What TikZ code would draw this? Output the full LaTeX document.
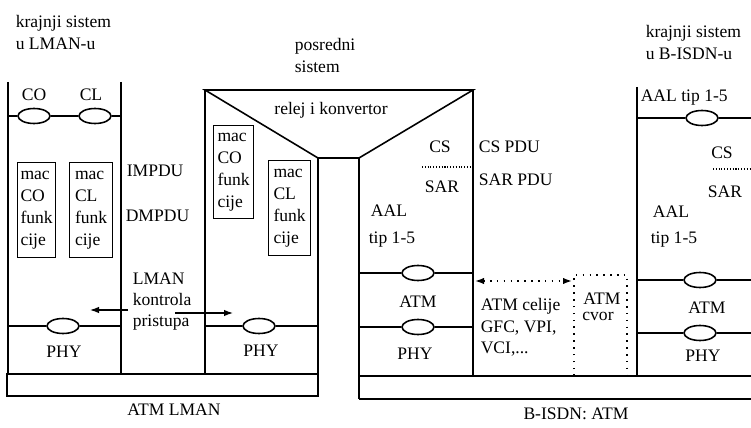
\documentclass[tikz,border=0pt]{standalone}
\usepackage{fontspec}
\setmainfont{Liberation Serif}
\usetikzlibrary{
  shapes.geometric,      % Ellipses for protocol entities
  arrows.meta
}

\tikzset{
  sloj/.style={ellipse, draw, minimum width=6.4mm, minimum height=3mm, inner sep=0pt},
  funkcija/.style={draw, line width=0.7pt, align=left, anchor=north west,
    minimum height=19mm, inner sep=1pt, font=\fontsize{10}{12.5}\selectfont},
  tekst/.style={anchor=west, inner sep=0pt, align=left},
  blok/.style={anchor=north west, inner sep=0pt, align=left},
  tacke/.style={line width=1pt, dash pattern=on 0.9pt off 3pt},
  sitno/.style={line width=0.6pt, densely dotted},
  strelica/.style={-{Latex[length=1.8mm, width=1.3mm]}, line width=0.7pt}
}

\begin{document}
\begin{tikzpicture}[x=0.2mm, y=-0.2mm, line width=0.9pt, font=\fontsize{10}{12}\selectfont]
        \useasboundingbox (0,0) rectangle (751,428);

        % Krajnji sistem u LMAN-u
        \node[blok] (naslovL) at (15,15) {krajnji sistem\\u LMAN-u};
        \draw (8,82) -- (8,374);
        \draw (121,82) -- (121,374);
        \node (co) at (34,95) {CO};
        \node (cl) at (91,95) {CL};
        \node[sloj] (eco) at (34,116) {};
        \node[sloj] (ecl) at (95,116) {};
        \draw (8,116) -- (eco) -- (ecl) -- (121,116);
        \node[funkcija, minimum width=7.6mm] (macco) at (17,162) {mac\\CO\\funk\\cije};
        \node[funkcija, minimum width=8.6mm] (maccl) at (69,162) {mac\\CL\\funk\\cije};
        \node[sloj] (ephyL) at (63,326) {};
        \draw (8,326) -- (ephyL) -- (121,326);
        \node (phyL) at (64,352) {PHY};

        % PDU oznake i kontrola pristupa
        \node[tekst] (impdu) at (126,171) {IMPDU};
        \node[tekst] (dmpdu) at (125,216) {DMPDU};
        \node[blok] (kontrola) at (132,272) {LMAN\\kontrola\\pristupa};
        \coordinate (kl1) at (128,310);
        \coordinate (kl2) at (90,310);
        \coordinate (kd1) at (175,313);
        \coordinate (kd2) at (233,313);
        \draw[strelica] (kl1) -- (kl2);
        \draw[strelica] (kd1) -- (kd2);

        % ATM LMAN
        \draw (7,374) rectangle (318,396);
        \node (atmlman) at (174,410) {ATM LMAN};

        % Posredni sistem: relej i konvertor
        \node[blok] (naslovP) at (294,38) {posredni\\sistem};
        \draw (205,90) -- (205,374);
        \draw (205,90) -- (473,90) -- (359,158) -- (318,158) -- cycle;
        \draw (318,158) -- (318,396);
        \draw (359,158) -- (359,399);
        \draw (473,90) -- (473,376);
        \node (relej) at (331,110) {relej i konvertor};
        \node[funkcija, minimum width=8mm, minimum height=18.6mm] (macco2) at (213,125) {mac\\CO\\funk\\cije};
        \node[funkcija, minimum width=8.4mm] (maccl2) at (268,160) {mac\\CL\\funk\\cije};
        \node[sloj] (ephyP) at (259,326) {};
        \draw (205,326) -- (ephyP) -- (318,326);
        \node (phyP) at (261,351) {PHY};

        % Posredni sistem: ATM strana
        \node (csP) at (440,147) {CS};
        \draw[sitno] (422,167) -- (473,167);
        \node (sarP) at (442,187) {SAR};
        \node (aalP) at (389,211) {AAL};
        \node[tekst] (tipP) at (368,240) {tip 1-5};
        \node[sloj] (eatmP) at (418,273) {};
        \draw (359,273) -- (eatmP) -- (473,273);
        \node (atmP) at (418,302) {ATM};
        \node[sloj] (ephyA) at (418,327) {};
        \draw (359,327) -- (ephyA) -- (473,327);
        \node (phyA) at (415,354) {PHY};

        % PDU i celije
        \node[tekst] (cspdu) at (478,147) {CS PDU};
        \node[tekst] (sarpdu) at (478,180) {SAR PDU};
        \coordinate (c1) at (475,281);
        \coordinate (c2) at (572,281);
        \draw[tacke, {Latex[length=1.8mm, width=1.3mm]}-{Latex[length=1.8mm, width=1.3mm]}] (c1) -- (c2);
        \node[blok] (celije) at (480,298) {ATM celije\\GFC, VPI,\\VCI,...};

        % ATM cvor
        \draw[tacke] (574,376) -- (574,275) -- (627,275) -- (627,376);
        \node (cvorA) at (602,299) {ATM};
        \node (cvorB) at (598,316) {cvor};

        % B-ISDN: ATM
        \draw (751,376) -- (359,376);
        \draw (359,399) -- (751,399);
        \node (bisdn) at (576,414) {B-ISDN: ATM};

        % Krajnji sistem u B-ISDN-u
        \node[blok] (naslovB) at (645,25) {krajnji sistem\\u B-ISDN-u};
        \draw (637,87) -- (637,376);
        \node[tekst] (aaltip) at (640,98) {AAL tip 1-5};
        \node[sloj] (eaalB) at (702,118) {};
        \draw (637,118) -- (eaalB) -- (751,118);
        \node (csB) at (722,153) {CS};
        \draw[sitno] (713,169) -- (751,169);
        \node (sarB) at (725,192) {SAR};
        \node (aalB) at (671,212) {AAL};
        \node[tekst] (tipB) at (650,240) {tip 1-5};
        \node[sloj] (eatmB) at (700,280) {};
        \draw (637,280) -- (eatmB) -- (751,280);
        \node (atmB) at (707,308) {ATM};
        \node[sloj] (ephyB) at (700,333) {};
        \draw (637,333) -- (ephyB) -- (751,333);
        \node (phyB) at (703,356) {PHY};
    \end{tikzpicture}
\end{document}
